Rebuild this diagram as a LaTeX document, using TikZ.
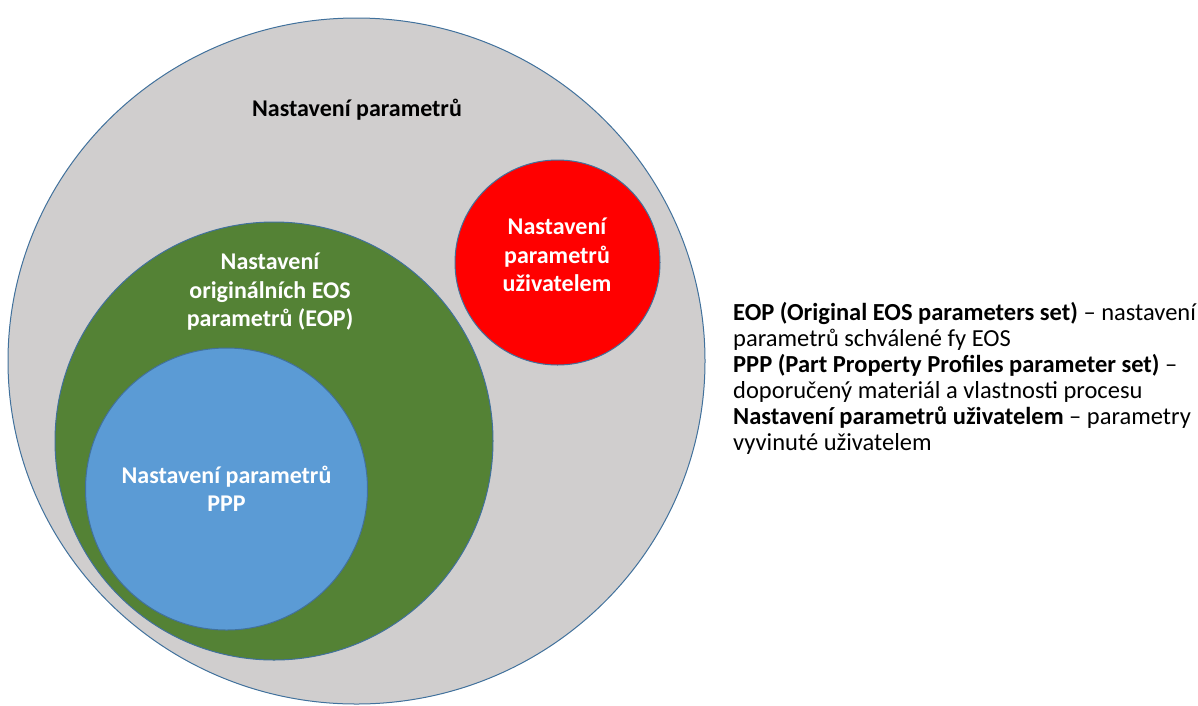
\documentclass[tikz,border=0pt]{standalone}
\usepackage{fontspec}
\setmainfont{Carlito}
\usetikzlibrary{shapes.geometric}
\definecolor{outl}{HTML}{41719C}
\definecolor{grayfill}{HTML}{D0CECE}
\definecolor{greenfill}{HTML}{548235}
\definecolor{bluefill}{HTML}{5B9BD5}
\definecolor{redfill}{HTML}{FF0000}
\begin{document}
\begin{tikzpicture}[x=1pt,y=-1pt]
\tikzset{
  setshape/.style={draw=outl, line width=1pt, inner sep=0pt},
  intext/.style={text=white, font=\bfseries\fontsize{24}{28.5}\selectfont, align=center, inner sep=0pt},
  legend/.style={font=\fontsize{24.5}{26}\selectfont, align=left, inner sep=0pt, anchor=north west}
}
\useasboundingbox (0,0) rectangle (1198,705);
\node[setshape, ellipse, fill=grayfill, minimum width=697pt, minimum height=686pt] (all) at (356.5,361) {};
\node[setshape, circle, fill=greenfill, minimum size=438pt] (eop) at (274,441) {};
\node[setshape, circle, fill=bluefill, minimum size=282pt] (ppp) at (226.5,489) {};
\node[setshape, circle, fill=redfill, minimum size=205pt] (user) at (557.5,262.5) {};
\node[intext, text=black] (title) at (357,110) {Nastavení parametrů};
\node[intext] (eoptext) at (270,292) {Nastavení\\originálních EOS\\parametrů (EOP)};
\node[intext] (ppptext) at (226.5,489) {Nastavení parametrů\\PPP};
\node[intext] (usertext) at (557,255) {Nastavení\\parametrů\\uživatelem};
\node[legend] (leg) at (733,302) {\textbf{EOP (Original EOS parameters set)} -- nastavení\\
parametrů schválené fy EOS\\
\textbf{PPP (Part Property Profiles parameter set)} --\\
doporučený materiál a vlastnosti procesu\\
\textbf{Nastavení parametrů uživatelem} -- parametry\\
vyvinuté uživatelem};
\end{tikzpicture}
\end{document}
